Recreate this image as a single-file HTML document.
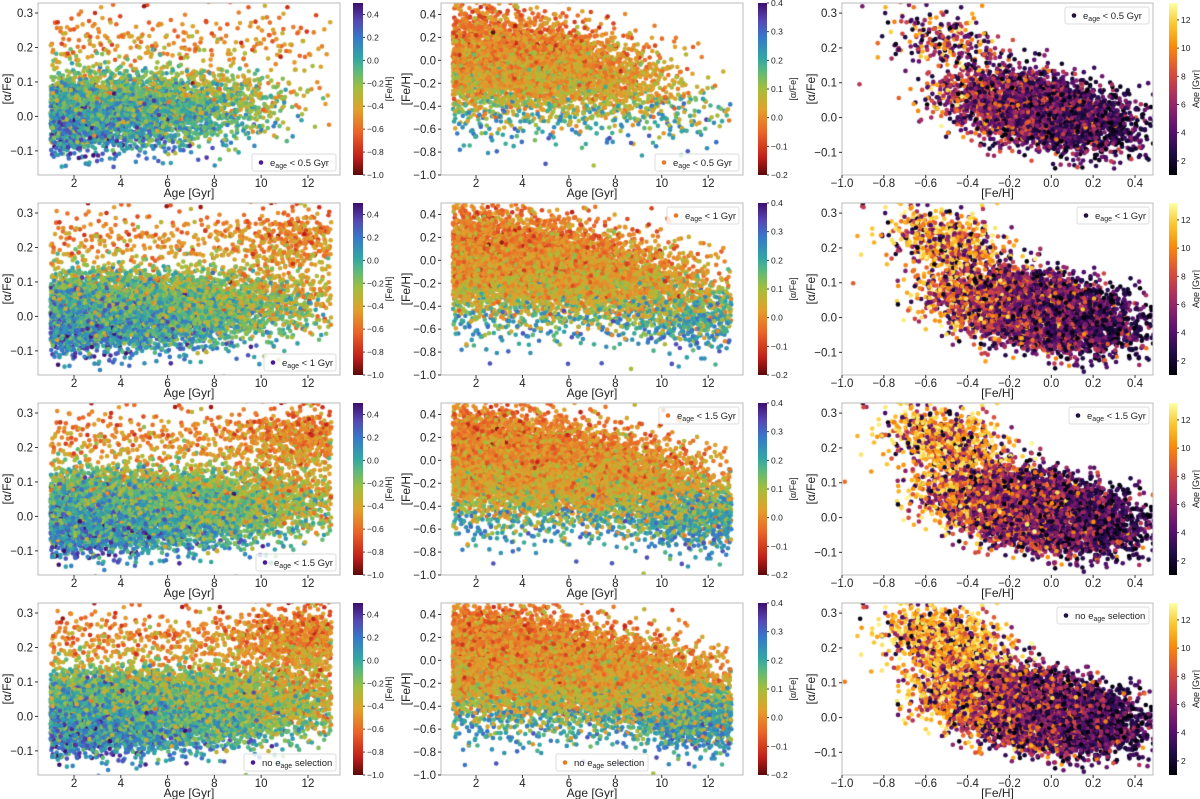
<!DOCTYPE html>
<html><head><meta charset="utf-8">
<style>
html,body{margin:0;padding:0;background:#fff;}
#wrap{position:relative;width:1200px;height:799px;overflow:hidden;font-family:"Liberation Sans",sans-serif;}
canvas,svg{position:absolute;left:0;top:0;}
</style></head>
<body>
<div id="wrap">
<canvas id="pts" width="1200" height="799"></canvas>
<svg id="ax" width="1200" height="799"></svg>
</div>
<script>
// ---- data (read/estimated from the picture) ----
const ageBins = [1,2,3,4,5,6,7,8,9,10,11,12,13];
const rowCounts = [4200, 6500, 8200, 9800];
const rowLabels = ["< 0.5 Gyr", "< 1 Gyr", "< 1.5 Gyr", "no selection"];
const ageWeightsRow1 = [10,10,9,8,7,6,4.5,3,2,1.2,0.6,0.3];
const ageWeightsRow2 = [10,10,9.5,9,8,7,6,5,4,3.5,3,2];
const ageWeightsRow3 = [10,10,10,9.5,8.5,7.5,6.5,5.5,5,4.5,4,3];
const ageWeightsRow4 = [10,10,10,10,9,8,7,6,5.5,5.5,5,4];
const fehMeanByAge = [0.02,0.0,-0.02,-0.04,-0.06,-0.09,-0.12,-0.15,-0.19,-0.24,-0.28,-0.32];
const fehSpreadByAge = [0.21,0.21,0.21,0.2,0.2,0.19,0.19,0.19,0.19,0.2,0.2,0.2];
const highAlphaFracByAge = [0.04,0.04,0.04,0.04,0.045,0.05,0.06,0.09,0.16,0.3,0.45,0.55];
const xTicksAge = [2,4,6,8,10,12];
const yTicksAlpha = [-0.1,0.0,0.1,0.2,0.3];
const yTicksFeh = [-1.0,-0.8,-0.6,-0.4,-0.2,0.0,0.2,0.4];
const xTicksFeh = [-1.0,-0.8,-0.6,-0.4,-0.2,0.0,0.2,0.4];
const cbTicksFeh = [-1.0,-0.8,-0.6,-0.4,-0.2,0.0,0.2,0.4];
const cbTicksAlpha = [-0.2,-0.1,0.0,0.1,0.2,0.3,0.4];
const cbTicksAge = [2,4,6,8,10,12];

const ageWeights=[ageWeightsRow1,ageWeightsRow2,ageWeightsRow3,ageWeightsRow4];

const specStops=[[0,[90,10,10]],[0.1,[190,30,25]],[0.25,[235,100,40]],[0.38,[225,160,45]],[0.5,[165,190,60]],[0.6,[95,185,120]],[0.68,[50,165,165]],[0.8,[55,120,200]],[0.9,[85,70,180]],[1,[60,15,110]]];
const infStops=[[0,[0,0,4]],[0.13,[31,12,72]],[0.25,[85,15,109]],[0.38,[136,34,106]],[0.5,[186,54,85]],[0.63,[227,89,51]],[0.75,[249,140,10]],[0.88,[249,201,50]],[1,[252,255,164]]];
function cmap(stops,t){t=Math.max(0,Math.min(1,t));for(let i=1;i<stops.length;i++){if(t<=stops[i][0]){const a=stops[i-1],b=stops[i];const f=(t-a[0])/(b[0]-a[0]);return 'rgb('+a[1].map((v,k)=>Math.round(v+(b[1][k]-v)*f)).join(',')+')';}}return 'rgb('+stops[stops.length-1][1].join(',')+')';}

const cols=[
 {x0:38,x1:340,xmin:0.46,xmax:13.37,ymin:-0.17,ymax:0.329,cb:[353,363]},
 {x0:441,x1:743,xmin:0.49,xmax:13.5,ymin:-1.0,ymax:0.5,cb:[758,767]},
 {x0:842,x1:1153,xmin:-1.0,xmax:0.486,ymin:-0.165,ymax:0.329,cb:[1169,1177]}];
function rowTop(r){return 3+200*r;} function rowBot(r){return 175+200*r;}
function sx(c,v){const C=cols[c];return C.x0+(v-C.xmin)/(C.xmax-C.xmin)*(C.x1-C.x0);}
function sy(c,r,v){const C=cols[c];return rowBot(r)-(v-C.ymin)/(C.ymax-C.ymin)*(rowBot(r)-rowTop(r));}

function halton(i,b){let f=1,r=0;while(i>0){f/=b;r+=f*(i%b);i=Math.floor(i/b);}return r;}
function gauss(u,v){u=Math.max(u,1e-4);return Math.sqrt(-2*Math.log(u))*Math.cos(2*Math.PI*v);}
function makeStars(r){
  const w=ageWeights[r],tot=w.reduce((a,b)=>a+b,0),out=[];
  for(let i=1;i<=rowCounts[r];i++){
    let u=halton(i,2)*tot,k=0;while(k<w.length-1&&u>w[k]){u-=w[k];k++;}
    const age=ageBins[k]+Math.min(0.999,u/w[k]);
    const hi=halton(i,7)<highAlphaFracByAge[k];
    let feh=fehMeanByAge[k]+fehSpreadByAge[k]*gauss(halton(i,3),halton(i,5));
    let alpha;
    if(hi){feh=-0.5+0.7*(feh-fehMeanByAge[k]);alpha=0.22+0.045*gauss(halton(i,11),halton(i,13))-0.1*(feh+0.5);}
    else{alpha=0.015-0.1*feh+0.05*gauss(halton(i,11),halton(i,13));}
    out.push([age,feh,alpha]);
  }
  return out;
}

const ctx=document.getElementById('pts').getContext('2d');
for(let r=0;r<4;r++){
  const stars=makeStars(r);
  for(let c=0;c<3;c++){
    ctx.save();ctx.beginPath();ctx.rect(cols[c].x0,rowTop(r),cols[c].x1-cols[c].x0,rowBot(r)-rowTop(r));ctx.clip();
    for(const s of stars){
      let x,y,col;
      if(c===0){x=sx(0,s[0]);y=sy(0,r,s[2]);col=cmap(specStops,(s[1]+1)/1.5);}
      else if(c===1){x=sx(1,s[0]);y=sy(1,r,s[1]);col=cmap(specStops,(s[2]+0.2)/0.6);}
      else{x=sx(2,s[1]);y=sy(2,r,s[2]);col=cmap(infStops,(s[0]-1)/12.2);}
      ctx.fillStyle=col;ctx.beginPath();ctx.arc(x,y,2.3,0,6.2832);ctx.fill();
    }
    ctx.restore();
  }
}

const svg=document.getElementById('ax');const NS='http://www.w3.org/2000/svg';
function el(t,a,txt){const e=document.createElementNS(NS,t);for(const k in a)e.setAttribute(k,a[k]);if(txt!==undefined)e.textContent=txt;svg.appendChild(e);return e;}
function fmt(v,d){return (v<0?'\u2212':'')+Math.abs(v).toFixed(d);}
const defs=el('defs',{});
function grad(id,stops){const g=document.createElementNS(NS,'linearGradient');g.setAttribute('id',id);g.setAttribute('x1','0');g.setAttribute('y1','1');g.setAttribute('x2','0');g.setAttribute('y2','0');
stops.forEach(s=>{const st=document.createElementNS(NS,'stop');st.setAttribute('offset',s[0]);st.setAttribute('stop-color','rgb('+s[1].join(',')+')');g.appendChild(st);});defs.appendChild(g);}
grad('gspec',specStops);grad('ginf',infStops);

const legendPos=[['br','br','br','br'],['br','tr','tr','bc'],['tr','tr','tr','tr']];
const legendDot=['#4b1a9a','#e8782a','#22103a'];
for(let r=0;r<4;r++){
  const T=rowTop(r),B=rowBot(r);
  for(let c=0;c<3;c++){
    const C=cols[c];
    const fr=el('rect',{x:C.x0,y:T,width:C.x1-C.x0,height:B-T,fill:'none',stroke:'#bbb','stroke-width':1});
    
    const xt=c<2?xTicksAge:xTicksFeh;
    xt.forEach(v=>{const x=sx(c,v);el('line',{x1:x,x2:x,y1:B,y2:B+3,stroke:'#333'});
      const t=el('text',{x:x,y:B+12,'font-size':11.5,'text-anchor':'middle',fill:'#222'},c<2?String(v):fmt(v,1));
      });
    const yt=c===1?yTicksFeh:yTicksAlpha;
    yt.forEach(v=>{const y=sy(c,r,v);if(y<T-1||y>B+1)return;el('line',{x1:C.x0-3,x2:C.x0,y1:y,y2:y,stroke:'#333'});
      const t=el('text',{x:C.x0-5,y:y+4,'font-size':11.5,'text-anchor':'end',fill:'#222'},fmt(v,1));
      });
    const xl=el('text',{x:(C.x0+C.x1)/2,y:B+22,'font-size':12,'text-anchor':'middle',fill:'#222'},c<2?'Age [Gyr]':'[Fe/H]');
    
    const ylx=c===0?11:(c===1?410:815);
    const yl=el('text',{x:ylx,y:(T+B)/2,'font-size':12,'text-anchor':'middle',fill:'#222',transform:'rotate(-90 '+ylx+' '+((T+B)/2)+')'},c===1?'[Fe/H]':'[α/Fe]');
    
    const cb=el('rect',{x:C.cb[0],y:T,width:C.cb[1]-C.cb[0],height:B-T,fill:c===2?'url(#ginf)':'url(#gspec)'});
    
    const cbt=c===0?cbTicksFeh:(c===1?cbTicksAlpha:cbTicksAge);
    const lo=c===0?-1.0:(c===1?-0.2:1.0),hi=c===0?0.5:(c===1?0.4:13.2);
    cbt.forEach(v=>{const y=B-(v-lo)/(hi-lo)*(B-T);el('line',{x1:C.cb[1],x2:C.cb[1]+2,y1:y,y2:y,stroke:'#333'});
      const t=el('text',{x:C.cb[1]+4,y:y+3,'font-size':8.5,fill:'#222'},c===2?String(v):fmt(v,1));
      });
    const clx=C.cb[1]+(c===2?22:29);
    const cl=el('text',{x:clx,y:(T+B)/2,'font-size':9,'text-anchor':'middle',fill:'#222',transform:'rotate(-90 '+clx+' '+((T+B)/2)+')'},c===0?'[Fe/H]':(c===1?'[α/Fe]':'Age [Gyr]'));
    
    const lbl=rowLabels[r];const noSel=lbl==='no selection';
    const lw=noSel?92:(r===0?84:(r===2?80:72)),lh=17;
    const p=legendPos[c][r];
    let lx=p==='bc'?(C.x0+C.x1)/2-lw/2+10:C.x1-lw-4;
    let ly=p[0]==='b'?B-lh-4:T+4;
    const lg=el('rect',{x:lx,y:ly,width:lw,height:lh,fill:'rgba(255,255,255,0.8)',stroke:'#ddd',rx:2});
    
    el('circle',{cx:lx+9,cy:ly+lh/2,r:2.3,fill:legendDot[c]});
    const tx=el('text',{x:lx+18,y:ly+12,'font-size':9.5,fill:'#222'});
    
    tx.appendChild(document.createTextNode(noSel?'no e':'e'));
    const s=document.createElementNS(NS,'tspan');s.setAttribute('font-size','7');s.setAttribute('dy','2');s.textContent='age';tx.appendChild(s);
    const s2=document.createElementNS(NS,'tspan');s2.setAttribute('dy','-2');s2.textContent=noSel?' selection':' '+lbl;tx.appendChild(s2);
  }
}
</script>
</body></html>
